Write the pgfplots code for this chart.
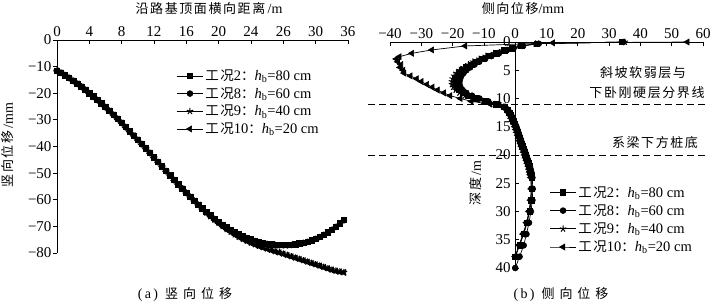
\documentclass[border=0pt]{standalone}
\usepackage{pgfplots}
\pgfplotsset{compat=1.18}
\usepackage{pgfplotstable}
\usepackage{fontspec}
\setmainfont{Liberation Serif}
\newfontfamily\cjk[Scale=0.93,LetterSpace=12]{Noto Sans CJK SC}
\newfontfamily\cjkw[Scale=0.93,LetterSpace=38]{Noto Sans CJK SC}
\newcommand{\hb}{\textit{h}\textsubscript{b}}

% left chart: x, case2, case8, case9, case10
\pgfplotstableread{
x a b c d
0 -11.5 -11.6 -11.5 -11.6
0.5 -12.3 -12.4 -12.3 -12.4
1 -13.2 -13.3 -13.2 -13.3
1.5 -14.2 -14.3 -14.2 -14.3
2 -15.3 -15.4 -15.3 -15.4
2.5 -16.4 -16.5 -16.4 -16.5
3 -17.5 -17.6 -17.5 -17.6
3.5 -18.7 -18.8 -18.7 -18.8
4 -20.0 -20.1 -20.0 -20.1
4.5 -21.2 -21.3 -21.2 -21.3
5 -22.5 -22.6 -22.5 -22.6
5.5 -23.8 -23.9 -23.8 -23.9
6 -25.2 -25.3 -25.2 -25.3
6.5 -26.6 -26.7 -26.6 -26.7
7 -28.1 -28.2 -28.1 -28.2
7.5 -29.6 -29.7 -29.6 -29.7
8 -31.1 -31.2 -31.1 -31.2
8.5 -32.7 -32.8 -32.7 -32.8
9 -34.3 -34.4 -34.3 -34.4
9.5 -35.9 -36.0 -35.9 -36.0
10 -37.5 -37.6 -37.5 -37.6
10.5 -39.1 -39.2 -39.1 -39.2
11 -40.7 -40.8 -40.7 -40.8
11.5 -42.4 -42.5 -42.4 -42.5
12 -44.1 -44.2 -44.1 -44.2
12.5 -45.8 -45.9 -45.8 -45.9
13 -47.5 -47.6 -47.5 -47.6
13.5 -49.2 -49.3 -49.2 -49.3
14 -50.9 -51.0 -50.9 -51.0
14.5 -52.6 -52.7 -52.6 -52.7
15 -54.2 -54.3 -54.2 -54.3
15.5 -55.8 -55.9 -55.8 -55.9
16 -57.4 -57.5 -57.4 -57.5
16.5 -58.9 -59.0 -58.9 -59.0
17 -60.4 -60.5 -60.4 -60.5
17.5 -61.9 -62.0 -61.9 -62.0
18 -63.3 -63.4 -63.5 -63.6
18.5 -64.6 -64.7 -64.9 -65.0
19 -65.9 -66.0 -66.3 -66.4
19.5 -67.1 -67.2 -67.6 -67.7
20 -68.3 -68.4 -68.8 -68.9
20.5 -69.4 -69.5 -70.0 -70.1
21 -70.4 -70.5 -71.1 -71.2
21.5 -71.3 -71.4 -72.1 -72.2
22 -72.2 -72.3 -73.1 -73.2
22.5 -73.0 -73.1 -74.0 -74.1
23 -73.7 -73.8 -74.8 -74.9
23.5 -74.3 -74.4 -75.5 -75.6
24 -74.9 -75.0 -76.2 -76.3
24.5 -75.4 -75.5 -76.8 -76.9
25 -75.8 -75.9 -77.4 -77.5
25.5 -76.2 -76.3 -77.9 -78.0
26 -76.5 -76.6 -78.4 -78.5
26.5 -76.7 -76.8 -78.9 -79.0
27 -76.9 -77.0 -79.4 -79.5
27.5 -77.0 -77.1 -79.8 -79.9
28 -77.0 -77.1 -80.3 -80.4
28.5 -77.0 -77.1 -80.8 -80.9
29 -76.9 -77.0 -81.3 -81.4
29.5 -76.7 -76.8 -81.8 -81.9
30 -76.4 -76.5 -82.3 -82.4
30.5 -76.1 -76.2 -82.8 -82.9
31 -75.7 -75.8 -83.3 -83.4
31.5 -75.2 -75.3 -83.8 -83.9
32 -74.6 -74.7 -84.3 -84.4
32.5 -73.9 -74.0 -84.8 -84.9
33 -73.1 -73.2 -85.3 -85.4
33.5 -72.2 -72.3 -85.8 -85.9
34 -71.2 -71.3 -86.3 -86.4
34.5 -70.1 -70.2 -86.7 -86.8
35 -68.9 -69.0 -87.0 -87.1
35.5 -67.6 -67.7 -87.2 -87.3
}\Lt

% right chart: lateral displacement x (mm), depth d (m)
\pgfplotstableread{
x d
34 0
7 0.3
2 0.7
-1 1.1
-3.5 1.5
-6 2.0
-8.5 2.5
-10.5 3.0
-12.5 3.5
-14 4.0
-15.5 4.5
-16.7 5.0
-17.6 5.5
-18.3 6.0
-18.7 6.5
-19 7.0
-19 7.5
-18.7 8.0
-18 8.5
-16.8 9.0
-15 9.5
-12.5 10.0
-9.5 10.5
-6 11.0
-3.5 11.5
-2.5 12
-1.9 12.5
-1.4 13
-1.0 13.5
-0.6 14
-0.2 14.5
0.2 15
0.5 15.5
0.8 16
1.1 16.5
1.4 17
1.7 17.5
2.0 18
2.3 18.5
2.7 19
3.0 19.5
3.3 20
3.6 20.5
3.9 21
4.2 21.5
4.5 22
4.7 22.5
4.9 23
5.1 23.5
5.3 24
5.4 26
5.2 28
4.6 30
3.8 32
2.7 34
1.4 36
0 38
}\Rtwo

\pgfplotstableread{
x d
34.5 0
7.5 0.3
2.5 0.7
-0.5 1.1
-2.8 1.5
-5.2 2.0
-7.6 2.5
-9.6 3.0
-11.5 3.5
-13 4.0
-14.4 4.5
-15.6 5.0
-16.5 5.5
-17.2 6.0
-17.6 6.5
-17.8 7.0
-17.8 7.5
-17.5 8.0
-16.8 8.5
-15.6 9.0
-13.8 9.5
-11.4 10.0
-8.6 10.5
-5.4 11.0
-3.2 11.5
-2.3 12
-1.7 12.5
-1.2 13
-0.8 13.5
-0.4 14
0 14.5
0.4 15
0.7 15.5
1.0 16
1.3 16.5
1.6 17
1.9 17.5
2.2 18
2.5 18.5
2.9 19
3.2 19.5
3.5 20
3.8 20.5
4.1 21
4.4 21.5
4.7 22
4.9 22.5
5.1 23
5.3 23.5
5.5 24
5.6 26
5.5 28
5.0 30
4.4 32
3.6 34
2.7 36
1.4 38
0 40
}\Reight

\pgfplotstableread{
x d
35 0
6.5 0.3
1.5 0.7
-1.5 1.1
-4.2 1.5
-6.8 2.0
-9.4 2.5
-11.5 3.0
-13.5 3.5
-15 4.0
-16.5 4.5
-17.8 5.0
-18.8 5.5
-19.5 6.0
-20 6.5
-20.2 7.0
-20.2 7.5
-19.8 8.0
-19 8.5
-17.8 9.0
-16 9.5
-13.5 10.0
-10.2 10.5
-6.5 11.0
-3.8 11.5
-2.7 12
-2.1 12.5
-1.6 13
-1.2 13.5
-0.8 14
-0.4 14.5
0 15
0.3 15.5
0.6 16
0.9 16.5
1.2 17
1.5 17.5
1.8 18
2.1 18.5
2.5 19
2.8 19.5
3.1 20
3.4 20.5
3.7 21
4.0 21.5
4.3 22
4.5 22.5
4.7 23
4.9 23.5
5.1 24
5.2 26
5.0 28
4.5 30
3.7 32
2.6 34
1.3 36
0 38
}\Rnine

\pgfplotstableread{
x d
55 0
12 0.15
-16 0.7
-26.6 1.4
-33 2.0
-37 2.6
-38 3.0
-37.5 3.5
-36.5 4.0
-36.8 4.5
-35.8 5.0
-35.5 5.5
-33.5 6.0
-31.5 6.5
-30 7.0
-28.2 7.5
-26.5 8.0
-24.8 8.5
-22.8 9.0
-20.8 9.5
-17.5 10.0
-14 10.5
-8 11.0
-4 11.5
-2.8 12
-2.2 12.5
-1.7 13
-1.3 13.5
-0.9 14
-0.5 14.5
-0.1 15
0.2 15.5
0.5 16
0.8 16.5
1.1 17
1.4 17.5
1.7 18
2.0 18.5
2.4 19
2.7 19.5
3.0 20
3.3 20.5
3.6 21
3.9 21.5
4.2 22
4.4 22.5
4.6 23
4.8 23.5
5.0 24
5.1 26
4.9 28
4.4 30
3.6 32
2.5 34
1.2 36
0 38
}\Rten

\pgfplotsset{
  every axis/.append style={
    scale only axis,
    clip=false,
    axis line style={line width=0.8pt},
    tick style={line width=0.8pt, black},
    major tick length=4pt,
    tick label style={font=\fontsize{15}{15}\selectfont},
    legend cell align=left,
    legend image code/.code={\draw[mark repeat=2,mark phase=2] plot coordinates {(0pt,0pt)(13pt,0pt)(26pt,0pt)};},
  },
  c2/.style={black, line width=0.7pt, mark=square*, mark size=2.7pt},
  c8/.style={black, line width=0.7pt, mark=*, mark size=2.9pt},
  c9/.style={black, line width=0.7pt, mark=star, mark size=3.4pt, mark options={line width=1pt}},
  c10/.style={black, line width=0.7pt, mark=triangle*, mark size=3.4pt, mark options={rotate=90}},
}

\begin{document}
\begin{tikzpicture}[font=\fontsize{14}{16}\selectfont]
\path[use as bounding box] (0,0) rectangle (726pt,308pt);

% ---------- left chart ----------
\begin{axis}[
  at={(57pt,55pt)}, anchor=south west,
  width=291pt, height=213pt,
  xmin=0, xmax=36, ymin=-80, ymax=0,
  axis x line*=top, axis y line*=left,
  xtick={0,4,8,12,16,20,24,28,32,36},
  xticklabels={0,4,8,12,16,20,24,26,30,36},
  ytick={-80,-70,-60,-50,-40,-30,-20,-10,0},
  yticklabels={−80,−70,−60,−50,−40,−30,−20,−10,0},
  tick align=inside,
  ytick style={xshift=-4pt},
  yticklabel style={xshift=-2pt},
  legend style={at={(axis description cs:0.40,0.88)}, anchor=north west,
    draw=none, fill=none, font=\fontsize{14.5}{16}\selectfont, row sep=1.5pt},
]
\addplot[c2] table[x=x,y=a] {\Lt};
\addlegendentry{{\cjk 工况}2{\cjk ：}\hb=80 cm}
\addplot[c8] table[x=x,y=b] {\Lt};
\addlegendentry{{\cjk 工况}8{\cjk ：}\hb=60 cm}
\addplot[c9] table[x=x,y=c] {\Lt};
\addlegendentry{{\cjk 工况}9{\cjk ：}\hb=40 cm}
\addplot[c10] table[x=x,y=d] {\Lt};
\addlegendentry{{\cjk 工况}10{\cjk ：}\hb=20 cm}
\end{axis}

% ---------- right chart ----------
\begin{axis}[
  at={(390pt,40pt)}, anchor=south west,
  width=313pt, height=226pt,
  xmin=-40, xmax=60, ymin=0, ymax=40,
  y dir=reverse,
  axis x line*=top, axis y line*=middle,
  xtick={-40,-30,-20,-10,0,10,20,30,40,50,60},
  xticklabels={−40,−30,−20,−10,0,10,20,30,40,50,60},
  ytick={0,5,10,15,20,25,30,35,40},
  yticklabels={0,5,10,15,20,25,30,35,40},
  hide obscured x ticks=false, hide obscured y ticks=false,
  tick align=inside,
  yticklabel style={xshift=-1pt},
  legend style={at={(axis description cs:0.50,0.38)}, anchor=north west,
    draw=none, fill=none, font=\fontsize{14.5}{16}\selectfont, row sep=2pt},
]
\addplot[black, line width=0.6pt, dash pattern=on 7pt off 4pt, forget plot] coordinates {(-47,11) (60.5,11)};
\addplot[black, line width=0.6pt, dash pattern=on 7pt off 4pt, forget plot] coordinates {(-47,20) (60.5,20)};
\addplot[c2] table[x=x,y=d] {\Rtwo};
\addlegendentry{{\cjk 工况}2{\cjk ：}\hb=80 cm}
\addplot[c8] table[x=x,y=d] {\Reight};
\addlegendentry{{\cjk 工况}8{\cjk ：}\hb=60 cm}
\addplot[c9] table[x=x,y=d] {\Rnine};
\addlegendentry{{\cjk 工况}9{\cjk ：}\hb=40 cm}
\addplot[c10] table[x=x,y=d] {\Rten};
\addlegendentry{{\cjk 工况}10{\cjk ：}\hb=20 cm}
\end{axis}

% ---------- labels ----------
\node at (209pt,299pt) {{\cjk 沿路基顶面横向距离}\,/m};
\node[rotate=90] at (8pt,163pt) {{\cjk 竖向位移}\,/mm};
\node at (523pt,299pt) {{\cjk 侧向位移}/mm};
\node[rotate=90] at (476pt,125pt) {{\cjk 深度}\,/m};
\node at (185pt,14pt) {(\,a\,)\hspace{7pt}{\cjkw 竖向位移}};
\node at (561pt,14pt) {(\,b\,)\hspace{7pt}{\cjkw 侧向位移}};
\node at (643pt,235pt) {\cjk 斜坡软弱层与};
\node at (647pt,215pt) {\cjk 下卧刚硬层分界线};
\node at (655pt,165pt) {\cjk 系梁下方桩底};
\end{tikzpicture}
\end{document}
